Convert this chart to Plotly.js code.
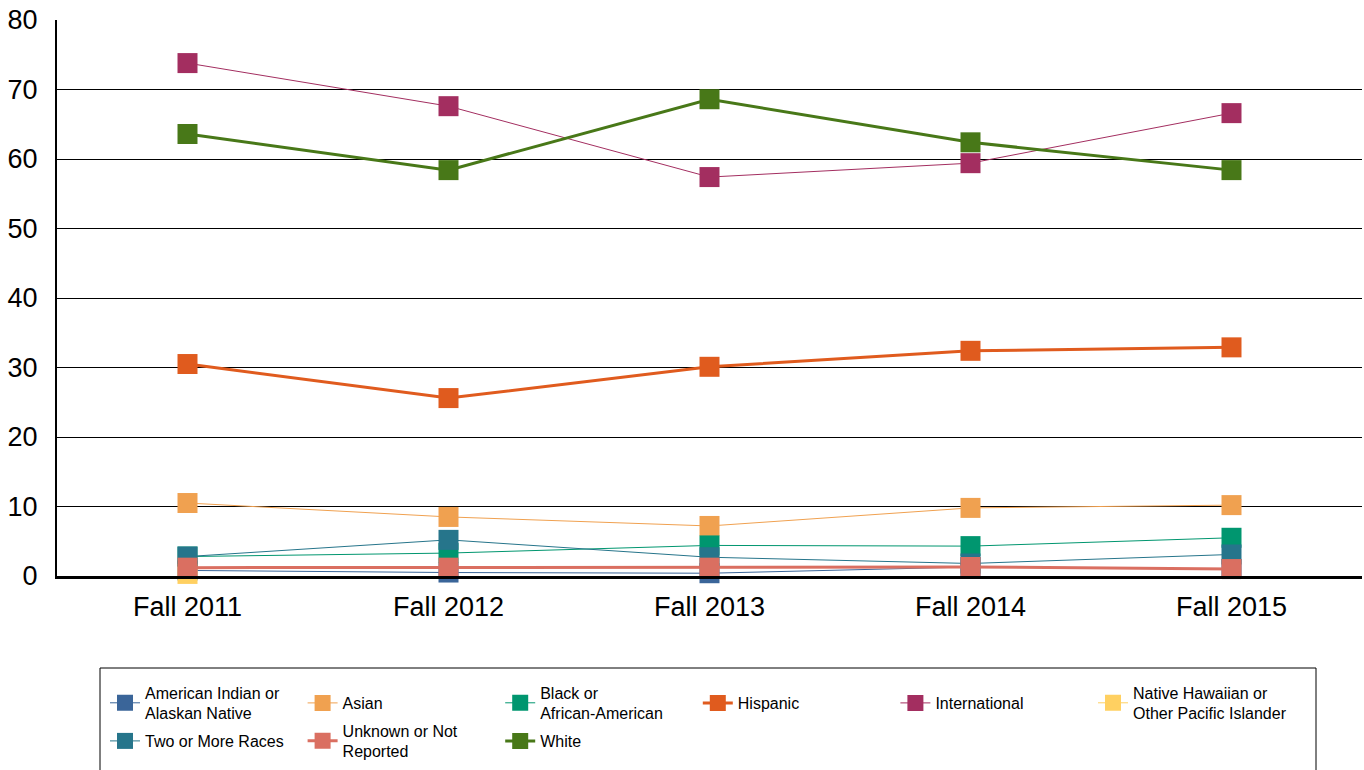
<!DOCTYPE html>
<html>
<head>
<meta charset="utf-8">
<script src="https://cdn.plot.ly/plotly-3.0.1.min.js"></script>
<style>html,body{margin:0;padding:0;background:#fff;}#chart{width:1364px;height:770px;}</style>
</head>
<body>
<div id="chart"></div>
<script>
const terms = ["Fall 2011", "Fall 2012", "Fall 2013", "Fall 2014", "Fall 2015"];

const seriesNames = [
  "American Indian or<br>Alaskan Native",
  "Asian",
  "Black or<br>African-American",
  "Hispanic",
  "International",
  "Native Hawaiian or<br>Other Pacific Islander",
  "Two or More Races",
  "Unknown or Not<br>Reported",
  "White"
];

const americanIndian = [0.8, 0.5, 0.4, 1.3, 1.0];
const asian          = [10.5, 8.5, 7.2, 9.8, 10.2];
const black          = [2.8, 3.3, 4.4, 4.3, 5.5];
const hispanic       = [30.5, 25.6, 30.1, 32.4, 32.9];
const international  = [73.8, 67.6, 57.4, 59.4, 66.6];
const nativeHawaiian = [0.3, null, null, null, null];
const twoOrMore      = [2.8, 5.2, 2.7, 1.8, 3.1];
const unknown        = [1.2, 1.2, 1.2, 1.3, 1.0];
const white          = [63.6, 58.4, 68.6, 62.4, 58.4];

const seriesValues = [americanIndian, asian, black, hispanic, international,
                      nativeHawaiian, twoOrMore, unknown, white];
const colors = ["#3A6599", "#F0A150", "#00966F", "#E05B1E", "#A32E60",
                "#FFD061", "#26758B", "#DA6F61", "#487818"];
const widths = [1, 1, 1, 3, 1, 1, 1, 3, 3];

// plot area geometry (px)
const W = 1364, H = 770, ML = 57, MR = 2, MT = 20, MB = 194;
const PW = W - ML - MR, PH = H - MT - MB;
const toPx = px => (px - ML) / PW;
const toPy = py => (H - MB - py) / PH;

// legend grid: 6 columns, text start and row centres
const legCols = 6, legText0 = 145, legColStep = 197.6, legRowY = [703, 741];

const traces = seriesValues.map((vals, i) => ({
  type: "scatter",
  mode: "lines+markers",
  name: seriesNames[i],
  x: terms,
  y: vals,
  legend: i === 0 ? "legend" : "legend" + (i + 1),
  line: {color: colors[i], width: widths[i]},
  marker: {symbol: "square", size: 20, color: colors[i]},
  cliponaxis: false,
  hoverinfo: "x+y+name"
}));

const layout = {
  width: W,
  height: H,
  margin: {l: ML, r: MR, t: MT, b: MB, autoexpand: false},
  paper_bgcolor: "#ffffff",
  plot_bgcolor: "#ffffff",
  font: {family: "Liberation Sans, Arial, sans-serif", color: "#000000"},
  showlegend: true,
  xaxis: {
    type: "category",
    range: [-0.5, 4.5],
    showgrid: false,
    zeroline: false,
    showline: true,
    linecolor: "#000000",
    linewidth: 3,
    ticks: "",
    tickfont: {size: 27, color: "#000000"},
    ticklabelstandoff: 5,
    fixedrange: true
  },
  yaxis: {
    range: [0, 80],
    dtick: 10,
    showgrid: true,
    gridcolor: "#000000",
    gridwidth: 1,
    zeroline: false,
    showline: true,
    linecolor: "#000000",
    linewidth: 2,
    ticks: "",
    tickfont: {size: 27, color: "#000000"},
    ticklabelstandoff: 12,
    fixedrange: true
  },
  shapes: [{
    type: "rect",
    xref: "paper", yref: "paper",
    x0: toPx(100), x1: toPx(1316),
    y0: toPy(800), y1: toPy(668),
    line: {color: "#000000", width: 1},
    fillcolor: "rgba(0,0,0,0)",
    layer: "below"
  }]
};

seriesNames.forEach((nm, i) => {
  const key = i === 0 ? "legend" : "legend" + (i + 1);
  const col = i % legCols, row = Math.floor(i / legCols);
  layout[key] = {
    orientation: "v",
    x: toPx(legText0 + col * legColStep - 40),
    xanchor: "left",
    y: toPy(legRowY[row]),
    yanchor: "middle",
    valign: "middle",
    font: {size: 16, color: "#000000"},
    bgcolor: "rgba(0,0,0,0)",
    borderwidth: 0,
    itemclick: false,
    itemdoubleclick: false
  };
});

Plotly.newPlot("chart", traces, layout, {displayModeBar: false});
</script>
</body>
</html>
